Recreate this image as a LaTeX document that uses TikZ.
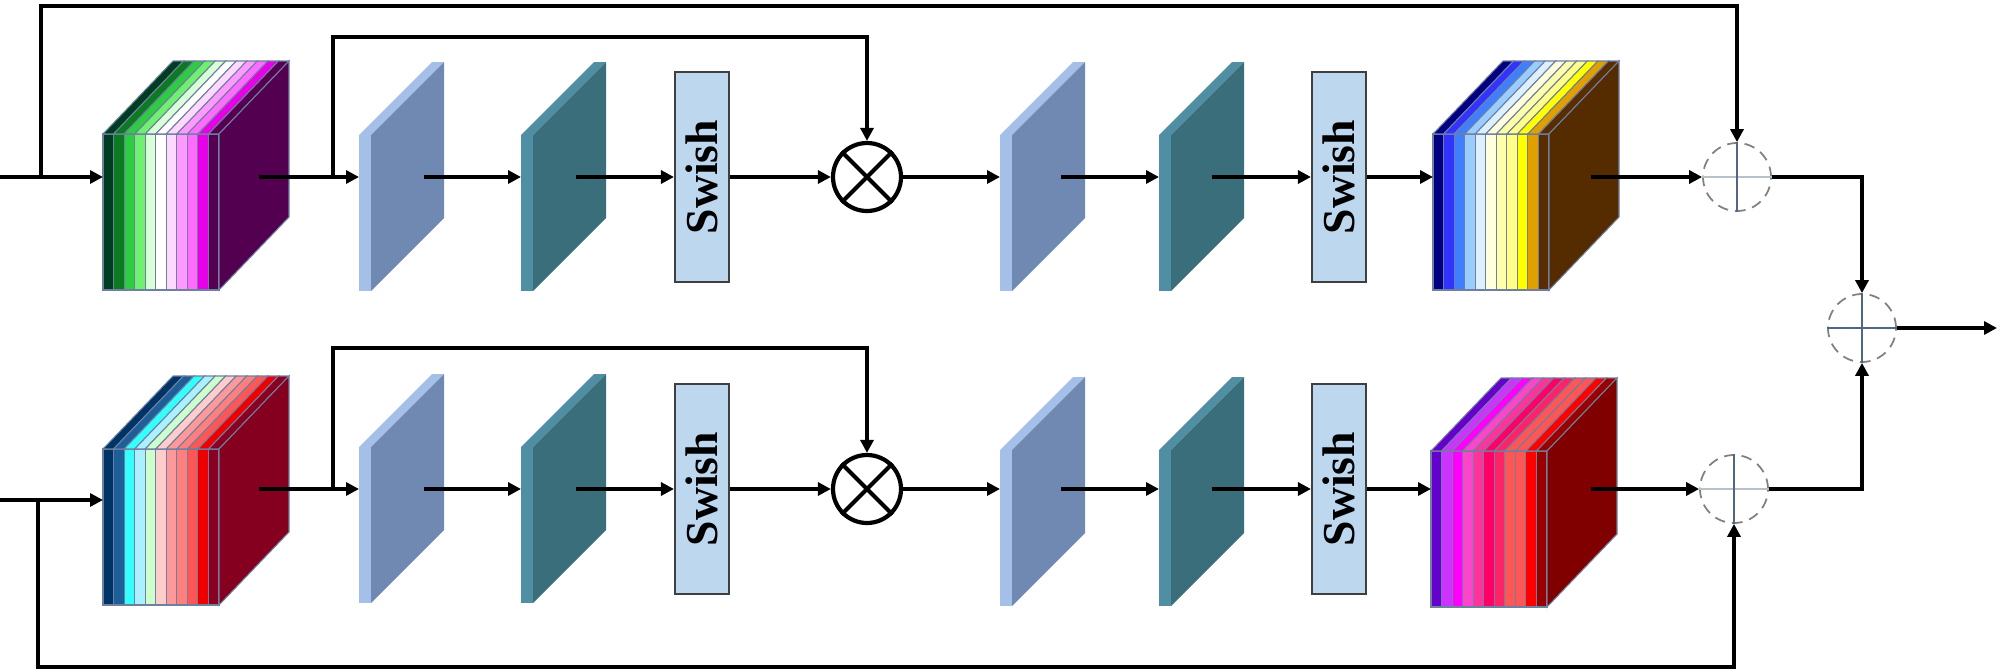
\documentclass[tikz,border=0pt]{standalone}
\usepackage{fontspec}
\setmainfont{Liberation Serif}
\usetikzlibrary{arrows.meta}

\definecolor{sepline}{HTML}{6E7FA0}
\definecolor{swishfill}{HTML}{BDD7EE}
\definecolor{swishdraw}{HTML}{3F3F3F}
\definecolor{bleuclair}{HTML}{A4BFE8}
\definecolor{bleufonce}{HTML}{7089B3}
\definecolor{tealclair}{HTML}{4F8EA3}
\definecolor{tealfonce}{HTML}{3B6E7B}
\definecolor{ardoise}{HTML}{4F6785}
\definecolor{grisclair}{HTML}{B8C0C8}

\tikzset{
  arr/.style={line width=1.1pt, -{Triangle[length=1.3mm,width=1.3mm]}},
  swish/.style={rectangle, draw=swishdraw, fill=swishfill, line width=0.6pt, rotate=90,
    minimum width=21mm, minimum height=5.4mm, inner sep=0pt,
    font=\bfseries\fontsize{13}{15}\selectfont},
  mult/.style={circle, draw, line width=1.2pt, minimum size=6.8mm, inner sep=0pt},
  somme/.style={circle, draw=gray, densely dashed, line width=0.5pt, minimum size=6.8mm, inner sep=0pt},
}

% cube a bandes : coin bas gauche, couleurs, flanc
\newcommand{\cubeblk}[3]{%
  \begin{scope}[shift={#1}]
    \foreach \c [count=\i from 0] in {#2} {
      \definecolor{bande}{HTML}{\c}
      \filldraw[fill=bande, draw=sepline, line width=0.3pt] (\i*10.545,0) rectangle ++(10.545,-156);
      \filldraw[fill=bande, draw=sepline, line width=0.3pt] (\i*10.545,-156) -- ++(10.545,0) -- ++(70,-73) -- ++(-10.545,0) -- cycle;
    }
    \definecolor{flanc}{HTML}{#3}
    \filldraw[fill=flanc, draw=sepline, line width=0.3pt] (116,0) -- (116,-156) -- (186,-229) -- (186,-73) -- cycle;
  \end{scope}}

% plaque : coin bas gauche, tranche, face
\newcommand{\plateblk}[3]{%
  \begin{scope}[shift={#1}]
    \fill[#2] (0,0) rectangle (12,-156);
    \fill[#2] (0,-156) -- (12,-156) -- (85,-229) -- (73,-229) -- cycle;
    \fill[#3] (12,0) -- (12,-156) -- (85,-229) -- (85,-73) -- cycle;
  \end{scope}}

\begin{document}
\begin{tikzpicture}[x=0.1mm, y=-0.1mm]
  \useasboundingbox (0,0) rectangle (2000,672);

  % rangee du haut
  \cubeblk{(103,290)}{003D20,0B7A20,2ECC40,70F070,D8FFD8,FFFFFF,FFD8FF,FF99FF,FF6BFF,E800E8,560052}{540050}
  \plateblk{(359,291)}{bleuclair}{bleufonce}
  \plateblk{(521,291)}{tealclair}{tealfonce}
  \plateblk{(1000,291)}{bleuclair}{bleufonce}
  \plateblk{(1159,291)}{tealclair}{tealfonce}
  \cubeblk{(1433,290)}{000080,3333FF,3F7FFF,99CCFF,DDF0FF,FFFFDD,FFFFAA,FFFF88,FFFF00,E0A000,5A2D00}{552B00}

  % rangee du bas
  \cubeblk{(103,605)}{003366,1F5F99,33FFFF,AAF0FF,CCFFCC,FFCCCC,FF9999,FF7F7F,FF5555,EE0000,8B0020}{85001E}
  \plateblk{(359,603)}{bleuclair}{bleufonce}
  \plateblk{(521,603)}{tealclair}{tealfonce}
  \plateblk{(1000,606)}{bleuclair}{bleufonce}
  \plateblk{(1159,606)}{tealclair}{tealfonce}
  \cubeblk{(1431,607)}{6600CC,CC33FF,FF00FF,FF44CC,FF3399,FF0066,FF2266,FF5555,FF5555,FF0000,990000}{800000}

  \coordinate (haut) at (0,6);
  \coordinate (haut2) at (0,37);
  \coordinate (haut3) at (0,348);
  \coordinate (bas) at (0,667);

  \coordinate (in1) at (0,177);
  \coordinate (b1) at (41,177);
  \coordinate (c1e) at (103,177);
  \coordinate (c1s) at (259,177);
  \coordinate (b2) at (333,177);
  \coordinate (p1e) at (359,177);
  \coordinate (p1s) at (424,177);
  \coordinate (p2e) at (521,177);
  \coordinate (p2s) at (576,177);
  \node[swish] (sw1) at (702,177) {Swish};
  \node[mult] (x1) at (867,177) {};
  \coordinate (p3e) at (1000,177);
  \coordinate (p3s) at (1061,177);
  \coordinate (p4e) at (1159,177);
  \coordinate (p4s) at (1212,177);
  \node[swish] (sw2) at (1339,177) {Swish};
  \coordinate (c2e) at (1433,177);
  \coordinate (c2s) at (1591,177);
  \node[somme] (s1) at (1737,177) {};

  \coordinate (in2) at (0,500);
  \coordinate (b3) at (38,500);
  \coordinate (c3e) at (103,500);
  \coordinate (c3s) at (259,489);
  \coordinate (b4) at (333,489);
  \coordinate (p5e) at (359,489);
  \coordinate (p5s) at (424,489);
  \coordinate (p6e) at (521,489);
  \coordinate (p6s) at (576,489);
  \node[swish] (sw3) at (702,489) {Swish};
  \node[mult] (x2) at (867,489) {};
  \coordinate (p7e) at (1000,489);
  \coordinate (p7s) at (1061,489);
  \coordinate (p8e) at (1159,489);
  \coordinate (p8s) at (1212,489);
  \node[swish] (sw4) at (1339,489) {Swish};
  \coordinate (c4e) at (1431,489);
  \coordinate (c4s) at (1591,489);
  \node[somme] (s4) at (1734,489) {};

  \node[somme] (s3) at (1862,328) {};
  \coordinate (out) at (1997,328);

  % signes
  \draw[line width=1.2pt] (x1.north west) -- (x1.south east) (x1.north east) -- (x1.south west);
  \draw[line width=1.2pt] (x2.north west) -- (x2.south east) (x2.north east) -- (x2.south west);
  \draw[grisclair, line width=0.8pt] (s1.west) -- (s1.east) (s4.west) -- (s4.east);
  \draw[ardoise, line width=0.8pt] (s1.north) -- (s1.south) (s4.north) -- (s4.south);
  \draw[ardoise, line width=0.8pt] (s3.west) -- (s3.east) (s3.north) -- (s3.south);

  % fleches haut
  \draw[arr] (in1) -- (c1e);
  \draw[arr] (c1s) -- (p1e);
  \draw[arr] (p1s) -- (p2e);
  \draw[arr] (p2s) -- (sw1);
  \draw[arr] (sw1) -- (x1);
  \draw[arr] (x1) -- (p3e);
  \draw[arr] (p3s) -- (p4e);
  \draw[arr] (p4s) -- (sw2);
  \draw[arr] (sw2) -- (c2e);
  \draw[arr] (c2s) -- (s1);
  \draw[arr] (b1) -- (b1 |- haut) -| (s1.north);
  \draw[arr] (b2) -- (b2 |- haut2) -| (x1.north);

  % fleches bas
  \draw[arr] (in2) -- (c3e);
  \draw[arr] (c3s) -- (p5e);
  \draw[arr] (p5s) -- (p6e);
  \draw[arr] (p6s) -- (sw3);
  \draw[arr] (sw3) -- (x2);
  \draw[arr] (x2) -- (p7e);
  \draw[arr] (p7s) -- (p8e);
  \draw[arr] (p8s) -- (sw4);
  \draw[arr] (sw4) -- (c4e);
  \draw[arr] (c4s) -- (s4);
  \draw[arr] (b3) -- (b3 |- bas) -| (s4.south);
  \draw[arr] (b4) -- (b4 |- haut3) -| (x2.north);

  % sortie
  \draw[arr] (s1.east) -| (s3.north);
  \draw[arr] (s4.east) -| (s3.south);
  \draw[arr] (s3) -- (out);
\end{tikzpicture}
\end{document}
